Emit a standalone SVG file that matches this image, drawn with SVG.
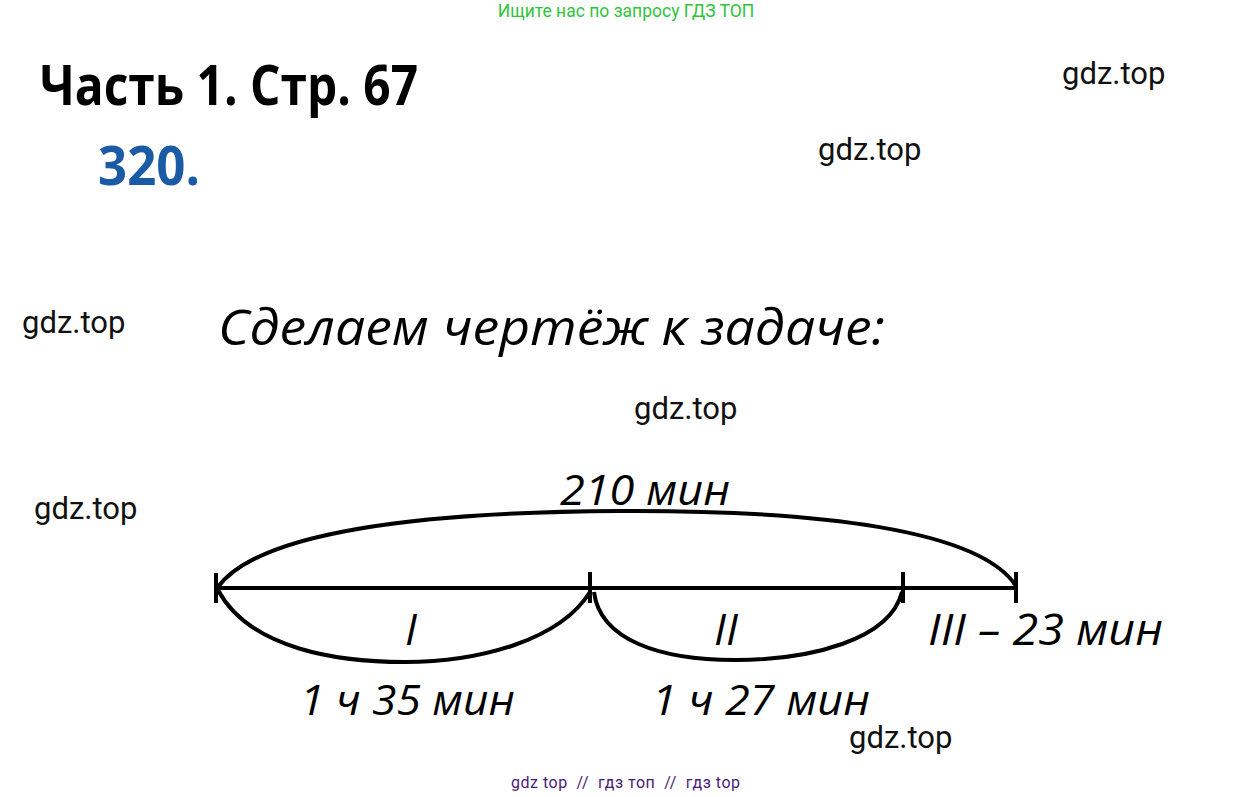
<svg xmlns="http://www.w3.org/2000/svg" width="1253" height="797" viewBox="0 0 1253 797">
<style>
.wm{font-family:Roboto,"Liberation Sans",sans-serif;font-size:31px;fill:#111}
.hw{font-family:"Open Sans","Noto Sans",sans-serif;font-style:italic;fill:#000}
.ln{fill:none;stroke:#000;stroke-width:4;stroke-linecap:butt}
</style>
<rect width="1253" height="797" fill="#fff"/>
<g id="header">
<text x="626" y="17" text-anchor="middle" font-family="Roboto,'Liberation Sans',sans-serif" font-size="17.5" fill="#2ec43c">Ищите нас по запросу ГДЗ ТОП</text>
<text x="40" y="105" font-family="'Open Sans','Noto Sans',sans-serif" font-weight="bold" font-size="56" textLength="378" lengthAdjust="spacingAndGlyphs" fill="#000">Часть 1. Стр. 67</text>
<text x="98" y="185" font-family="'Open Sans','Noto Sans',sans-serif" font-weight="bold" font-size="54" textLength="102" lengthAdjust="spacingAndGlyphs" fill="#1b5ba6">320.</text>
<text x="218" y="345" class="hw" font-size="49" textLength="667" lengthAdjust="spacingAndGlyphs">Сделаем чертёж к задаче:</text>
</g>
<g id="watermarks">
<text class="wm" x="1062" y="84">gdz.top</text>
<text class="wm" x="818" y="160">gdz.top</text>
<text class="wm" x="22" y="333">gdz.top</text>
<text class="wm" x="634" y="419">gdz.top</text>
<text class="wm" x="34" y="519">gdz.top</text>
<text class="wm" x="849" y="748">gdz.top</text>
<text x="511" y="788" xml:space="preserve" textLength="229" lengthAdjust="spacing" font-family="Roboto,'Liberation Sans',sans-serif" font-size="16" fill="#4b1a7e">gdz top  //  гдз топ  //  гдз top</text>
</g>
<g id="connectors">
<line class="ln" x1="216" y1="588" x2="1016" y2="588"/>
<line class="ln" x1="216" y1="573" x2="216" y2="603"/>
<line class="ln" x1="590" y1="572" x2="590" y2="603"/>
<line class="ln" x1="903" y1="572" x2="903" y2="603"/>
<line class="ln" x1="1016" y1="572" x2="1016" y2="603"/>
<path class="ln" d="M218,587 C260,530 430,512 620,511 C820,510 980,530 1016,586"/>
<path class="ln" d="M218,590 C250,650 340,662 405,662 C480,662 560,640 590,592"/>
<path class="ln" d="M594,592 C600,640 660,660 735,660 C810,660 890,640 902,592"/>
</g>
<g id="labels">
<text class="hw" x="560" y="505" font-size="42" textLength="170" lengthAdjust="spacingAndGlyphs">210 мин</text>
<text class="hw" x="405" y="645" font-size="44">I</text>
<text class="hw" x="714" y="645" font-size="44">II</text>
<text class="hw" x="928" y="645" font-size="44" textLength="235" lengthAdjust="spacingAndGlyphs">III – 23 мин</text>
<text class="hw" x="300" y="715" font-size="42" textLength="215" lengthAdjust="spacingAndGlyphs">1 ч 35 мин</text>
<text class="hw" x="652" y="715" font-size="42" textLength="218" lengthAdjust="spacingAndGlyphs">1 ч 27 мин</text>
</g>
</svg>
